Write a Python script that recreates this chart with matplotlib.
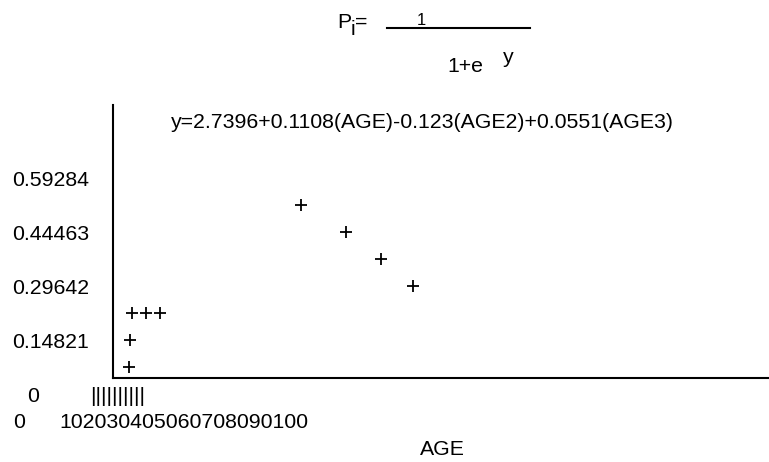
import matplotlib
matplotlib.use("Agg")
import matplotlib.pyplot as plt
import matplotlib.transforms as mtransforms

plt.rcParams['font.family'] = ['Liberation Sans', 'DejaVu Sans']

# ---- data ----
age = [2.4, 2.6, 2.9, 5.0, 7.2, 28.7, 35.5, 40.8, 45.7]
prob = [0.074, 0.148, 0.222, 0.222, 0.222, 0.519, 0.445, 0.371, 0.296]
y_tick_values = [0, 0.14821, 0.29642, 0.44463, 0.59284]
y_tick_labels = ['0', '0.14821', '0.29642', '0.44463', '0.59284']
x_tick_labels = ['0', '10', '20', '30', '40', '50', '60', '70', '80', '90', '100']
equation = 'y=2.7396+0.1108(AGE)-0.123(AGE2)+0.0551(AGE3)'
x_label = 'AGE'

W, H = 769, 462
fig = plt.figure(figsize=(W / 100, H / 100), dpi=100)
fig.patch.set_facecolor('white')

def fx(px):
    return px / W

def fy(py):
    return 1 - py / H

# plot area
ax = fig.add_axes([fx(113), fy(378), (769 - 113) / W, (378 - 105) / H])
ax.set_xlim(0, 100)
ax.set_ylim((394 - 378) / 364.3, (394 - 105) / 364.3)
for s in ['top', 'right']:
    ax.spines[s].set_visible(False)
for s in ['left', 'bottom']:
    ax.spines[s].set_linewidth(1.5)
    ax.spines[s].set_color('black')
ax.set_xticks([])
ax.set_yticks([])
ax.patch.set_alpha(0)

ax.plot(age, prob, linestyle='none', marker='+', markersize=8,
        markeredgewidth=1.3, color='black', clip_on=False)

FS = 15.3

# y tick labels (left-aligned at fixed x, vertical from data)
blend = mtransforms.blended_transform_factory(fig.transFigure, ax.transData)
off = mtransforms.ScaledTranslation(0, -7.5 / 100, fig.dpi_scale_trans)
for v, lab in zip(y_tick_values, y_tick_labels):
    xpx = 27 if lab == '0' else 12
    ax.text(fx(xpx), v, lab, transform=blend + off, ha='left', va='baseline',
            fontsize=FS, color='black', clip_on=False)

# tick bars row
fig.text(fx(90), fy(402), '|' * (len(x_tick_labels) - 1), ha='left', va='baseline',
         fontsize=FS, color='black')

# x tick labels row
fig.text(fx(13), fy(428), x_tick_labels[0], ha='left', va='baseline', fontsize=FS)
fig.text(fx(59), fy(428), ''.join(x_tick_labels[1:]), ha='left', va='baseline', fontsize=FS)

# x axis label
fig.text(fx(420), fy(455), x_label, ha='left', va='baseline', fontsize=FS)

# equation
fig.text(fx(171), fy(128), equation, ha='left', va='baseline', fontsize=FS)

# formula P_i = 1 / (1+e^y)
fig.text(fx(337), fy(28), 'P', ha='left', va='baseline', fontsize=FS)
fig.text(fx(351), fy(35), 'i', ha='left', va='baseline', fontsize=FS)
fig.text(fx(355), fy(28), '=', ha='left', va='baseline', fontsize=FS)
fig.text(fx(417), fy(25), '1', ha='left', va='baseline', fontsize=12)
fig.add_artist(plt.Line2D([fx(387), fx(530)], [fy(28), fy(28)], color='black', linewidth=1.5))
fig.text(fx(447), fy(72), '1+e', ha='left', va='baseline', fontsize=FS)
fig.text(fx(503), fy(63), 'y', ha='left', va='baseline', fontsize=FS)

fig.savefig('out.png', dpi=100)
